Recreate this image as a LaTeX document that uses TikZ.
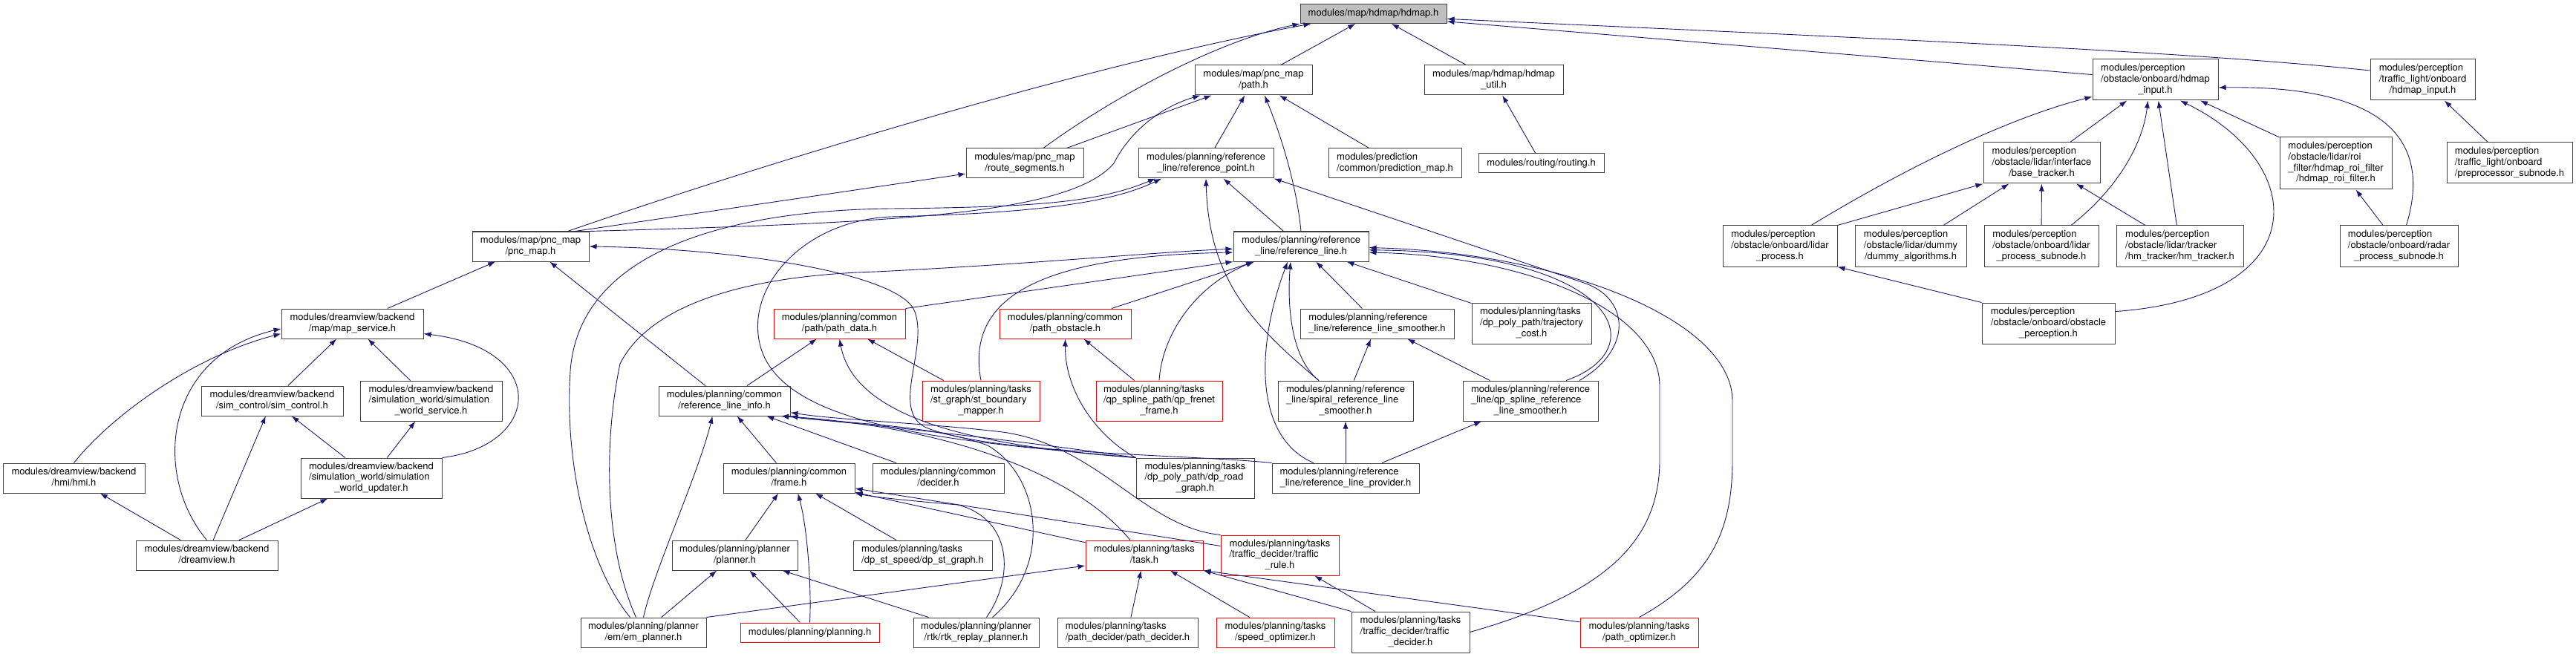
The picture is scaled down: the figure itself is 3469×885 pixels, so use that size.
\documentclass[tikz,border=0pt]{standalone}
\usepackage{fontspec}
\setmainfont{TeX Gyre Heros}
\usetikzlibrary{arrows.meta}
\definecolor{edgeblue}{RGB}{25,25,112}
\definecolor{boxgray}{RGB}{64,64,64}
\definecolor{hdgray}{RGB}{191,191,191}
% upper lines flush left, last line centred
\newcommand{\doxlabel}[2]{\begin{tabular}{@{}l@{}}#1\\\multicolumn{1}{@{}c@{}}{#2}\end{tabular}}
\begin{document}
\begin{tikzpicture}[x=1pt, y=-1pt,
    file/.style 2 args={draw=boxgray, line width=1pt, fill=white, minimum width=#1pt, minimum height=#2pt, inner sep=0pt, align=center, font=\fontsize{13}{14.7}\selectfont},
    redfile/.style 2 args={file={#1}{#2}, draw=red},
    dep/.style={draw=edgeblue, line width=0.9pt, -{Latex[length=10pt,width=7pt]}}]
    \useasboundingbox (0,0) rectangle (3469,885);
    % map
    \node[file={197}{26}, fill=hdgray] (hdmap) at (1849.5,18.5) {modules/map/hdmap/hdmap.h};
    \node[file={158}{40}] (path) at (1688,108) {\doxlabel{modules/map/pnc\_map}{/path.h}};
    \node[file={187}{40}] (hdmap_util) at (2011.5,108) {\doxlabel{modules/map/hdmap/hdmap}{\_util.h}};
    \node[file={179}{40}] (prediction_map) at (1878.5,220) {\doxlabel{modules/prediction}{/common/prediction\_map.h}};
    \node[file={169}{26}] (routing) at (2075.5,220) {modules/routing/routing.h};
    \node[file={158}{40}] (route_segments) at (1380,220) {\doxlabel{modules/map/pnc\_map}{/route\_segments.h}};
    \node[file={182}{40}] (reference_point) at (1624,220) {\doxlabel{modules/planning/reference}{\_line/reference\_point.h}};
    \node[file={157}{40}] (pnc_map) at (714.5,332) {\doxlabel{modules/map/pnc\_map}{/pnc\_map.h}};
    \node[file={182}{40}] (reference_line) at (1752,332) {\doxlabel{modules/planning/reference}{\_line/reference\_line.h}};
    % perception
    \node[file={169}{55}] (p_hdmap_input) at (2902.5,107.5) {\doxlabel{modules/perception\\/obstacle/onboard/hdmap}{\_input.h}};
    \node[file={141}{55}] (tl_hdmap_input) at (3262.5,107.5) {\doxlabel{modules/perception\\/traffic\_light/onboard}{/hdmap\_input.h}};
    \node[file={157}{55}] (base_tracker) at (2749.5,219.5) {\doxlabel{modules/perception\\/obstacle/lidar/interface}{/base\_tracker.h}};
    \node[file={151}{70}] (roi_filter) at (3145.5,220) {\doxlabel{modules/perception\\/obstacle/lidar/roi\\\_filter/hdmap\_roi\_filter}{/hdmap\_roi\_filter.h}};
    \node[file={169}{55}] (preprocessor) at (3379.5,219.5) {\doxlabel{modules/perception\\/traffic\_light/onboard}{/preprocessor\_subnode.h}};
    \node[file={154}{55}] (lidar_process) at (2397,331.5) {\doxlabel{modules/perception\\/obstacle/onboard/lidar}{\_process.h}};
    \node[file={150}{55}] (dummy) at (2573,331.5) {\doxlabel{modules/perception\\/obstacle/lidar/dummy}{/dummy\_algorithms.h}};
    \node[file={154}{55}] (lidar_subnode) at (2749,331.5) {\doxlabel{modules/perception\\/obstacle/onboard/lidar}{\_process\_subnode.h}};
    \node[file={171}{55}] (hm_tracker) at (2935.5,331.5) {\doxlabel{modules/perception\\/obstacle/lidar/tracker}{/hm\_tracker/hm\_tracker.h}};
    \node[file={159}{55}] (radar) at (3230.5,331.5) {\doxlabel{modules/perception\\/obstacle/onboard/radar}{\_process\_subnode.h}};
    \node[file={179}{55}] (obstacle_perception) at (2758.5,435.5) {\doxlabel{modules/perception\\/obstacle/onboard/obstacle}{\_perception.h}};
    % dreamview
    \node[file={191}{40}] (map_service) at (474.5,436) {\doxlabel{modules/dreamview/backend}{/map/map\_service.h}};
    \node[file={191}{40}] (hmi) at (99.5,644) {\doxlabel{modules/dreamview/backend}{/hmi/hmi.h}};
    \node[file={191}{40}] (dreamview) at (278.5,748) {\doxlabel{modules/dreamview/backend}{/dreamview.h}};
    \node[file={191}{40}] (sim_control) at (366.5,540) {\doxlabel{modules/dreamview/backend}{/sim\_control/sim\_control.h}};
    \node[file={191}{54}] (sim_world_service) at (580.5,540) {\doxlabel{modules/dreamview/backend\\/simulation\_world/simulation}{\_world\_service.h}};
    \node[file={190}{54}] (updater) at (500,644) {\doxlabel{modules/dreamview/backend\\/simulation\_world/simulation}{\_world\_updater.h}};
    % planning
    \node[redfile={177}{40}] (path_data) at (1130.5,436) {\doxlabel{modules/planning/common}{/path/path\_data.h}};
    \node[redfile={177}{40}] (path_obstacle) at (1434.5,436) {\doxlabel{modules/planning/common}{/path\_obstacle.h}};
    \node[file={207}{40}] (smoother) at (1854.5,436) {\doxlabel{modules/planning/reference}{\_line/reference\_line\_smoother.h}};
    \node[file={161}{55}] (trajectory_cost) at (2062.5,435.5) {\doxlabel{modules/planning/tasks\\/dp\_poly\_path/trajectory}{\_cost.h}};
    \node[file={177}{40}] (reference_line_info) at (975.5,540) {\doxlabel{modules/planning/common}{/reference\_line\_info.h}};
    \node[redfile={158}{54}] (st_boundary_mapper) at (1321,540) {\doxlabel{modules/planning/tasks\\/st\_graph/st\_boundary}{\_mapper.h}};
    \node[redfile={170}{54}] (qp_frenet) at (1561,540) {\doxlabel{modules/planning/tasks\\/qp\_spline\_path/qp\_frenet}{\_frame.h}};
    \node[file={182}{54}] (spiral) at (1812,540) {\doxlabel{modules/planning/reference\\\_line/spiral\_reference\_line}{\_smoother.h}};
    \node[file={182}{54}] (qp_spline) at (2061,540) {\doxlabel{modules/planning/reference\\\_line/qp\_spline\_reference}{\_line\_smoother.h}};
    \node[file={177}{40}] (frame) at (1062.5,644) {\doxlabel{modules/planning/common}{/frame.h}};
    \node[file={177}{40}] (decider) at (1263.5,644) {\doxlabel{modules/planning/common}{/decider.h}};
    \node[file={159}{54}] (dp_road_graph) at (1609.5,644) {\doxlabel{modules/planning/tasks\\/dp\_poly\_path/dp\_road}{\_graph.h}};
    \node[file={198}{40}] (provider) at (1812,644) {\doxlabel{modules/planning/reference}{\_line/reference\_line\_provider.h}};
    \node[file={169}{40}] (planner) at (989.5,748) {\doxlabel{modules/planning/planner}{/planner.h}};
    \node[file={187}{40}] (dp_st_graph) at (1242.5,748) {\doxlabel{modules/planning/tasks}{/dp\_st\_speed/dp\_st\_graph.h}};
    \node[redfile={158}{40}] (task) at (1541,748) {\doxlabel{modules/planning/tasks}{/task.h}};
    \node[redfile={159}{54}] (traffic_rule) at (1723.5,748) {\doxlabel{modules/planning/tasks\\/traffic\_decider/traffic}{\_rule.h}};
    \node[file={169}{40}] (em_planner) at (866.5,852) {\doxlabel{modules/planning/planner}{/em/em\_planner.h}};
    \node[redfile={187}{26}] (planning) at (1090.5,852) {modules/planning/planning.h};
    \node[file={169}{40}] (rtk) at (1314.5,852) {\doxlabel{modules/planning/planner}{/rtk/rtk\_replay\_planner.h}};
    \node[file={189}{40}] (path_decider) at (1518.5,852) {\doxlabel{modules/planning/tasks}{/path\_decider/path\_decider.h}};
    \node[redfile={159}{40}] (speed_optimizer) at (1717.5,852) {\doxlabel{modules/planning/tasks}{/speed\_optimizer.h}};
    \node[file={159}{55}] (traffic_decider) at (1899.5,851.5) {\doxlabel{modules/planning/tasks\\/traffic\_decider/traffic}{\_decider.h}};
    \node[redfile={159}{40}] (path_optimizer) at (2207.5,852) {\doxlabel{modules/planning/tasks}{/path\_optimizer.h}};

    % map edges
    \draw[dep] (path) -- (hdmap);
    \draw[dep] (hdmap_util) -- (hdmap);
    \draw[dep] (routing) -- (hdmap_util);
    \draw[dep] ([xshift=25pt]route_segments.north) .. controls (1500,130) and (1640,55) .. (hdmap.south west);
    \draw[dep] ([xshift=50pt]pnc_map.north) .. controls (1000,230) and (1450,90) .. ([xshift=15pt]hdmap.south west);
    \draw[dep] ([xshift=60pt]pnc_map.north) -- (route_segments.-170);
    \draw[dep] (route_segments) -- (path);
    \draw[dep] (pnc_map.north east) .. controls (1200,300) and (1440,290) .. (1500,220) .. controls (1520,180) and (1560,145) .. ([xshift=8pt]path.south west);
    \draw[dep] (prediction_map) -- (path);
    \draw[dep] (reference_point) -- (path);
    \draw[dep] (reference_line.north) .. controls (1745,240) and (1720,170) .. ([xshift=15pt]path.south);
    \draw[dep] (reference_line) -- (reference_point);
    % perception edges
    \draw[dep] (p_hdmap_input) -- (hdmap.-6);
    \draw[dep] (tl_hdmap_input.170) .. controls (2950,70) and (2600,55) .. (hdmap.-4);
    \draw[dep] (preprocessor) -- (tl_hdmap_input);
    \draw[dep] (base_tracker) -- (p_hdmap_input);
    \draw[dep] ([xshift=42pt]lidar_process.north) .. controls (2560,230) and (2700,160) .. (p_hdmap_input.-165);
    \draw[dep] (lidar_process.north east) -- (base_tracker.south west);
    \draw[dep] (dummy) -- (base_tracker);
    \draw[dep] (lidar_subnode) -- (base_tracker);
    \draw[dep] ([xshift=40pt]lidar_subnode.north) .. controls (2845,260) and (2885,200) .. ([xshift=-10pt]p_hdmap_input.south);
    \draw[dep] (hm_tracker) -- (base_tracker);
    \draw[dep] (hm_tracker) -- (p_hdmap_input);
    \draw[dep] (roi_filter) -- (p_hdmap_input);
    \draw[dep] (radar) -- (roi_filter);
    \draw[dep] ([xshift=10pt]radar.north) .. controls (3275,190) and (3215,115) .. (p_hdmap_input.-7);
    \draw[dep] (obstacle_perception.north west) -- (lidar_process.south east);
    \draw[dep] (obstacle_perception.10) .. controls (3120,400) and (3110,220) .. (p_hdmap_input.-40);
    % dreamview edges
    \draw[dep] (map_service) -- (pnc_map);
    \draw[dep] (hmi.north) .. controls (150,560) and (260,480) .. (map_service.188);
    \draw[dep] (dreamview.north) .. controls (205,640) and (220,480) .. (map_service.184);
    \draw[dep] (sim_control) -- (map_service);
    \draw[dep] (sim_world_service) -- (map_service);
    \draw[dep] (updater.north east) .. controls (730,600) and (740,470) .. (map_service.-8);
    \draw[dep] (updater) -- (sim_control);
    \draw[dep] (updater) -- (sim_world_service);
    \draw[dep] (dreamview) -- (hmi);
    \draw[dep] (dreamview) -- (sim_control);
    \draw[dep] (dreamview) -- (updater);
    % planning edges
    \draw[dep] (reference_line_info) -- (pnc_map);
    \draw[dep] (reference_line_info) -- (path_data);
    \draw[dep] (path_data.north east) -- (reference_line.south west);
    \draw[dep] (path_obstacle) -- (reference_line);
    \draw[dep] (st_boundary_mapper.north) .. controls (1300,400) and (1400,345) .. (reference_line.-175);
    \draw[dep] (st_boundary_mapper) -- (path_data);
    \draw[dep] (qp_frenet.north) .. controls (1565,450) and (1610,385) .. ([xshift=-64pt]reference_line.south);
    \draw[dep] (qp_frenet) -- (path_obstacle);
    \draw[dep] (trajectory_cost) -- (reference_line);
    \draw[dep] (smoother) -- (reference_line);
    \draw[dep] (spiral) -- (smoother);
    \draw[dep] ([xshift=-36pt]spiral.north) .. controls (1735,480) and (1734,400) .. ([xshift=-14pt]reference_line.south);
    \draw[dep] ([xshift=-36pt]spiral.north) .. controls (1690,440) and (1628,380) .. (reference_point.south);
    \draw[dep] (qp_spline) -- (smoother);
    \draw[dep] ([xshift=48pt]qp_spline.north) .. controls (2230,470) and (2180,340) .. (reference_line.-3);
    \draw[dep] ([xshift=66pt]qp_spline.north) .. controls (2200,470) and (2195,400) .. (2130,380) -- (reference_point.south east);
    \draw[dep] ([xshift=-43pt]provider.north) .. controls (1690,590) and (1690,470) .. ([xshift=-18pt]reference_line.south);
    \draw[dep] (provider) -- (spiral);
    \draw[dep] (provider) -- (qp_spline);
    \draw[dep] (provider.north west) .. controls (1600,612) and (1330,612) .. (1245,575) .. controls (1200,550) and (1250,470) .. (1232,420) .. controls (1215,370) and (1000,335) .. (pnc_map.east);
    \draw[dep] (dp_road_graph.north west) .. controls (1480,590) and (1434,530) .. (path_obstacle.south);
    \draw[dep] (dp_road_graph.north west) .. controls (1300,600) and (1150,560) .. (path_data.south);
    \draw[dep] (dp_road_graph.north west) .. controls (1350,590) and (1150,570) .. (reference_line_info.-15);
    \draw[dep] (dp_road_graph.north west) .. controls (1300,595) and (1060,580) .. (1025,470) .. controls (1000,390) and (1080,297) .. (1200,292) .. controls (1400,287) and (1500,272) .. ([xshift=-60pt]reference_point.south);
    \draw[dep] (frame) -- (reference_line_info);
    \draw[dep] (decider) -- (reference_line_info);
    \draw[dep] (planner) -- (frame);
    \draw[dep] (em_planner) -- (planner);
    \draw[dep] (em_planner.north) .. controls (880,770) and (940,640) .. ([xshift=-16pt]reference_line_info.south);
    \draw[dep] (em_planner.north east) -- (task.-170);
    \draw[dep] ([xshift=-18pt]em_planner.north) .. controls (790,760) and (760,620) .. (768,500) .. controls (780,330) and (1000,283) .. (1200,281) .. controls (1400,279) and (1480,272) .. ([xshift=-68pt]reference_point.south);
    \draw[dep] ([xshift=-10pt]em_planner.north) .. controls (815,740) and (812,600) .. (835,490) .. controls (870,420) and (980,372) .. (1180,366) .. controls (1400,355) and (1550,340) .. (reference_line.-178);
    \draw[dep] (rtk) -- (planner);
    \draw[dep] ([xshift=14pt]rtk.north) .. controls (1365,780) and (1365,700) .. (1290,680) .. controls (1230,675) and (1180,670) .. (frame.south east);
    \draw[dep] ([xshift=22pt]rtk.north) .. controls (1420,760) and (1400,640) .. (1330,600) .. controls (1250,570) and (1120,570) .. (reference_line_info.south east);
    \draw[dep] (planning) -- (planner);
    \draw[dep] (planning.north) .. controls (1093,790) and (1087,710) .. ([xshift=12pt]frame.south);
    \draw[dep] (dp_st_graph) -- (frame);
    \draw[dep] (task) -- (frame);
    \draw[dep] ([xshift=-19pt]task.north) .. controls (1450,640) and (1280,575) .. (reference_line_info.-15);
    \draw[dep] (traffic_rule) -- (frame);
    \draw[dep] (traffic_rule.north west) .. controls (1540,710) and (1480,600) .. (1350,582) .. controls (1250,570) and (1130,566) .. (reference_line_info.-10);
    \draw[dep] (traffic_decider) -- (traffic_rule);
    \draw[dep] (traffic_decider.north west) -- (task.south east);
    \draw[dep] (traffic_decider.east) .. controls (2160,800) and (2235,730) .. (2235,620) -- (2235,520) .. controls (2235,420) and (2060,345) .. (reference_line.-5);
    \draw[dep] (path_optimizer.170) -- (task.south east);
    \draw[dep] (path_optimizer.north) .. controls (2300,780) and (2333,720) .. (2333,620) -- (2333,540) .. controls (2333,430) and (2100,340) .. (reference_line.-1);
    \draw[dep] (speed_optimizer) -- (task);
    \draw[dep] (path_decider) -- (task);
\end{tikzpicture}
\end{document}
